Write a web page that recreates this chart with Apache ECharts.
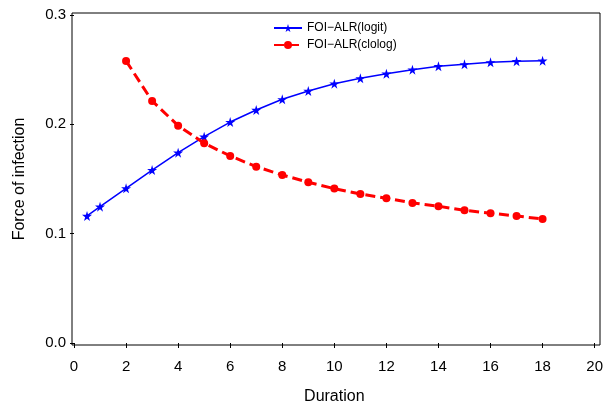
<!DOCTYPE html>
<html>
<head>
<meta charset="utf-8">
<script src="https://cdn.jsdelivr.net/npm/echarts@6/dist/echarts.min.js"></script>
<style>
    html, body { margin: 0; padding: 0; background: #fff; }
    #chart { width: 606px; height: 413px; }
</style>
</head>
<body>
<div id="chart"></div>
<script>
    // logit curve
    var logitDur = [0.5, 1, 2, 3, 4, 5, 6, 7, 8, 9, 10, 11, 12, 13, 14, 15, 16, 17, 18];
    var logitFoi = [0.1162, 0.1247, 0.1415, 0.1582, 0.1741, 0.1887, 0.2021, 0.2131, 0.2229, 0.2305,
                    0.2372, 0.2421, 0.2463, 0.2500, 0.2531, 0.2549, 0.2567, 0.2577, 0.2582];
    // clolog curve
    var clologDur = [2, 3, 4, 5, 6, 7, 8, 9, 10, 11, 12, 13, 14, 15, 16, 17, 18];
    var clologFoi = [0.2580, 0.2214, 0.1988, 0.1827, 0.1711, 0.1613, 0.1537, 0.1470, 0.1412,
                     0.1363, 0.1324, 0.1281, 0.1251, 0.1214, 0.1187, 0.1162, 0.1134];
    var xTicks = [0, 20, 2];
    var yTicks = [0, 0.3, 0.1];

    function pairs(xs, ys) {
        var out = [];
        for (var i = 0; i < xs.length; i++) out.push([xs[i], ys[i]]);
        return out;
    }

    var font = 'Liberation Sans, Arial, sans-serif';
    var chart = echarts.init(document.getElementById('chart'));
    var option = {
        animation: false,
        backgroundColor: '#fff',
        textStyle: { fontFamily: font, color: '#000' },
        legend: {
            orient: 'vertical',
            left: 268,
            top: 17,
            itemWidth: 28,
            itemHeight: 10,
            itemGap: 5,
            textStyle: { fontFamily: font, fontSize: 12, color: '#000' },
            data: ['FOI\u2212ALR(logit)', 'FOI\u2212ALR(clolog)']
        },
        grid: [
            // outer frame
            { left: 72, top: 13, width: 528, height: 332, show: true,
              borderColor: '#000', borderWidth: 1, backgroundColor: 'transparent' },
            // plotting area
            { left: 74, top: 15, width: 524, height: 328 }
        ],
        xAxis: [
            { gridIndex: 0, type: 'value', show: false, min: 0, max: 1 },
            {
                gridIndex: 1, type: 'value',
                min: xTicks[0], max: xTicks[1], interval: xTicks[2],
                offset: 2,
                name: 'Duration', nameLocation: 'middle', nameGap: 44,
                nameTextStyle: { fontFamily: font, fontSize: 16, color: '#000' },
                axisLine: { show: false },
                axisTick: { show: true, length: 5, lineStyle: { color: '#000' } },
                axisLabel: { margin: 14, fontSize: 15, color: '#000', fontFamily: font },
                splitLine: { show: false }
            }
        ],
        yAxis: [
            { gridIndex: 0, type: 'value', show: false, min: 0, max: 1 },
            {
                gridIndex: 1, type: 'value',
                min: yTicks[0], max: yTicks[1], interval: yTicks[2],
                offset: 2,
                name: 'Force of infection', nameLocation: 'middle', nameGap: 44,
                nameRotate: 90,
                nameTextStyle: { fontFamily: font, fontSize: 16, color: '#000' },
                axisLine: { show: false },
                axisTick: { show: true, length: 4, lineStyle: { color: '#000' } },
                axisLabel: {
                    margin: 6, fontSize: 15, color: '#000', fontFamily: font,
                    formatter: function (v) { return v.toFixed(1); }
                },
                splitLine: { show: false }
            }
        ],
        series: [
            {
                name: 'FOI\u2212ALR(logit)',
                type: 'line',
                xAxisIndex: 1, yAxisIndex: 1,
                data: pairs(logitDur, logitFoi),
                symbol: 'path://M50,0 L61,35 L98,35 L68,57 L79,91 L50,70 L21,91 L32,57 L2,35 L39,35 Z',
                symbolSize: 10,
                itemStyle: { color: '#0000ff' },
                lineStyle: { color: '#0000ff', width: 1.5 }
            },
            {
                name: 'FOI\u2212ALR(clolog)',
                type: 'line',
                xAxisIndex: 1, yAxisIndex: 1,
                data: pairs(clologDur, clologFoi),
                symbol: 'circle',
                symbolSize: 8,
                itemStyle: { color: '#ff0000' },
                lineStyle: { color: '#ff0000', width: 3, type: [10, 5] }
            }
        ]
    };
    chart.setOption(option);
</script>
</body>
</html>
